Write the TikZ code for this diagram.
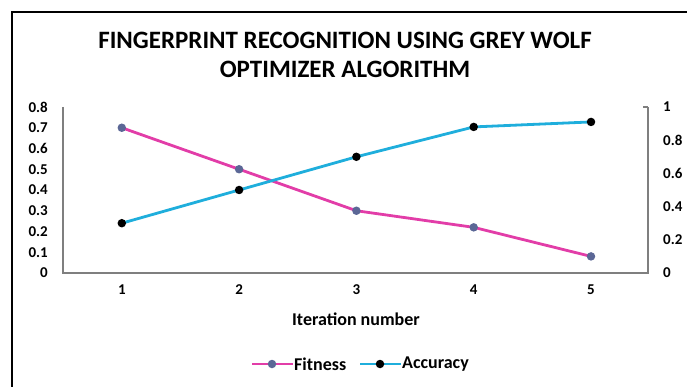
\documentclass[tikz,border=0pt]{standalone}
\usepackage{fontspec}
\setmainfont{Carlito}
\usepackage{xcolor}
\usetikzlibrary{positioning}

\definecolor{fitline}{HTML}{E23DA8}
\definecolor{fitmark}{HTML}{5B6796}
\definecolor{accline}{HTML}{1FAEDC}
\definecolor{axisgray}{HTML}{7F7F7F}

\begin{document}
\begin{tikzpicture}[x=1pt, y=-1pt,
    ttl/.style={font=\bfseries\fontsize{25}{29}\selectfont, align=center},
    tick/.style={font=\bfseries\fontsize{15}{17}\selectfont, inner sep=0pt},
    lbl/.style={font=\bfseries\fontsize{18}{20}\selectfont, inner sep=0pt},
    axline/.style={draw=axisgray, line width=1.6pt},
    fitpath/.style={draw=fitline, line width=2.8pt},
    accpath/.style={draw=accline, line width=2.8pt},
    fitdot/.style={circle, fill=fitmark, inner sep=0pt, minimum size=8.5pt},
    accdot/.style={circle, fill=black, inner sep=0pt, minimum size=8.5pt}
  ]
  \useasboundingbox (0,0) rectangle (687,387);

  % frame
  \draw[line width=2pt] (12,387) -- (12,12) -- (687,12);

  % title
  \node[ttl] (title) at (345,55) {FINGERPRINT RECOGNITION USING GREY WOLF\\OPTIMIZER ALGORITHM};

  % axes
  \coordinate (o)  at (63,273);
  \coordinate (lt) at (63,107);
  \coordinate (r0) at (648,273);
  \coordinate (rt) at (648,107);
  \draw[axline] (lt) -- (o) -- (r0) -- (rt);

  % left scale
  \foreach \v/\t in {0/0, 0.1/0.1, 0.2/0.2, 0.3/0.3, 0.4/0.4, 0.5/0.5, 0.6/0.6, 0.7/0.7, 0.8/0.8}
    \node[tick, anchor=east] (l\t) at (48,273-207.5*\v) {\t};

  % right scale
  \foreach \v/\t in {0/0, 0.2/0.2, 0.4/0.4, 0.6/0.6, 0.8/0.8, 1/1} {
    \coordinate (rk\t) at (648,273-166*\v);
    \draw[axline, line width=1.2pt] (rk\t) -- ++(-5,0);
    \node[tick, anchor=west] (r\t) at (663,273-166*\v) {\t};
  }

  % categories
  \foreach \i in {1,...,5}
    \node[tick] (c\i) at (4.5+117.3*\i,290) {\i};
  \node[lbl] (xlab) at (356,319) {Iteration number};

  % data
  \foreach \i/\f/\a in {1/0.7/0.3, 2/0.5/0.5, 3/0.3/0.7, 4/0.22/0.88, 5/0.08/0.91} {
    \coordinate (f\i) at (4.5+117.3*\i,273-207.5*\f);
    \coordinate (a\i) at (4.5+117.3*\i,273-166*\a);
  }
  \draw[fitpath] (f1) -- (f2) -- (f3) -- (f4) -- (f5);
  \draw[accpath] (a1) -- (a2) -- (a3) -- (a4) -- (a5);
  \foreach \i in {1,...,5} {
    \node[fitdot] (fd\i) at (f\i) {};
    \node[accdot] (ad\i) at (a\i) {};
  }

  % legend
  \coordinate (lf1) at (252,364);
  \coordinate (lf2) at (293,364);
  \draw[fitpath] (lf1) -- (lf2);
  \node[fitdot] (lfd) at (272,364) {};
  \node[lbl, anchor=west] (lft) at (294,364) {Fitness};
  \coordinate (la1) at (360,364);
  \coordinate (la2) at (401,364);
  \draw[accpath] (la1) -- (la2);
  \node[accdot] (lad) at (380,364) {};
  \node[lbl, anchor=west] (lat) at (402,364) {Accuracy};
\end{tikzpicture}
\end{document}
